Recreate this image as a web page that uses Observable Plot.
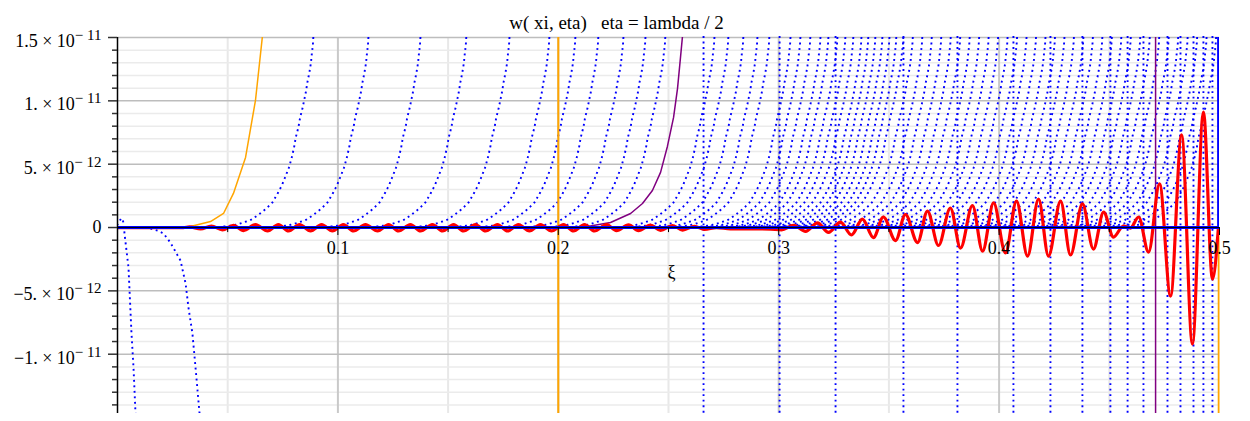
<!DOCTYPE html>
<html><head><meta charset="utf-8">
<script src="https://cdn.jsdelivr.net/npm/d3@7"></script>
<script src="https://cdn.jsdelivr.net/npm/@observablehq/plot@0.6"></script>
<style>body{margin:0;background:#fff} svg{display:block}</style>
</head><body><div id="chart"></div>
<script>
// ---------- text ----------
const titleText = "w( xi, eta)   eta = lambda / 2";
const xLabel = "ξ";
const xMajor = [0.1, 0.2, 0.3, 0.4, 0.5];
const xMajorText = ["0.1", "0.2", "0.3", "0.4", "0.5"];
const xMinor = [0.05, 0.15, 0.25, 0.35, 0.45];
const yMajor = [-1e-11, -5e-12, 0, 5e-12, 1e-11, 1.5e-11];
const yMajorText = ["−1. × 10|− 11", "−5. × 10|− 12", "0", "5. × 10|− 12", "1. × 10|− 11", "1.5 × 10|− 11"];
const yMinorUnits = [-14,-13,-12,-11,-9,-8,-7,-6,-4,-3,-2,-1,1,2,3,4,6,7,8,9,11,12,13,14]; // ×1e-12

// ---------- red curve (extrema), w in 1e-12 ----------
const redXi = [0,0.02,0.0299,0.0327,0.0377,0.0426,0.0476,0.0526,0.0572,0.0626,0.0681,0.0730,0.0776,0.0826,0.0876,0.0926,0.0975,0.1025,0.1071,0.1125,0.1180,0.1230,0.1275,0.1329,0.1375,0.1429,0.1475,0.1525,0.1570,0.1624,0.1670,0.1724,0.1770,0.1819,0.1869,0.1919,0.1969,0.2024,0.2069,0.2119,0.2164,0.2219,0.2264,0.2319,0.2364,0.2418,0.2464,0.2518,0.2564,0.2618,0.2663,0.2718,0.2781,0.2849,0.2917,0.2963,0.3013,0.3067,0.3122,0.3176,0.3226,0.3280,0.3330,0.3380,0.3430,0.3475,0.3530,0.3575,0.3630,0.3675,0.3725,0.3779,0.3825,0.3879,0.3925,0.3975,0.4029,0.4079,0.4129,0.4179,0.4224,0.4279,0.4324,0.4378,0.4428,0.4474,0.4519,0.4564,0.4596,0.4633,0.4678,0.4728,0.4778,0.4828,0.4877,0.4927,0.4968,0.4995];
const redW  = [0,0,0,0.05,-0.10,0.12,-0.18,0.18,-0.24,0.23,-0.27,0.23,-0.27,0.23,-0.27,0.23,-0.27,0.23,-0.27,0.23,-0.27,0.23,-0.27,0.23,-0.27,0.23,-0.27,0.23,-0.27,0.23,-0.27,0.23,-0.27,0.23,-0.27,0.23,-0.27,0.23,-0.27,0.23,-0.27,0.23,-0.25,0.21,-0.24,0.19,-0.22,0.16,-0.20,0.10,-0.15,0.0,-0.10,-0.10,-0.10,-0.12,-0.18,0.18,-0.30,0.36,-0.38,0.43,-0.59,0.67,-0.79,0.83,-1.03,1.03,-1.19,1.30,-1.42,1.54,-1.62,1.74,-1.86,1.94,-2.01,2.09,-2.25,2.25,-2.25,2.09,-2.17,1.86,-1.70,1.22,-0.75,0.12,-0.04,0.83,-1.94,3.44,-5.41,7.31,-9.20,9.12,-4.07,0];

// ---------- solid blue (≈ 0, then vertical at the end) ----------
const blueXi = [0, 0.4996, 0.4996];
const blueW  = [0, 0, 16];

// ---------- orange ----------
const orangeXi = [0,0.0286,0.0331,0.0422,0.0481,0.0526,0.0581,0.0626,0.0658,0.0662];
const orangeW  = [0,0,0.08,0.47,1.11,2.69,5.53,10.03,15.17,16];
const orangeRuleFull = [0.2];
const orangeRuleLow = [0.4996];

// ---------- purple ----------
const purpleXi = [0.1738,0.2010,0.2132,0.2237,0.2328,0.2382,0.2427,0.2464,0.2495,0.2523,0.2541,0.2554,0.2563,0.2568];
const purpleW  = [0,0,0.08,0.40,1.11,1.90,2.92,4.35,6.40,8.69,10.98,13.35,15.01,15.6];
const purpleRule = [0.471];

// ---------- dotted blue family ----------
const dotExits = [0.0889,0.1139,0.1375,0.1583,0.1779,0.1960,0.2078,0.2182,0.2296,0.2396,0.2486,0.2709,0.2772,0.2840,0.2904,0.2958,0.3054,0.3099,0.3144,0.3190,0.3226,0.3267,0.3303,0.3339,0.3376,0.3407,0.3439,0.3471,0.3503,0.3534,0.3566,0.3609,0.3652,0.3695,0.3738,0.3781,0.3824,0.3867,0.3910,0.3953,0.3996,0.4039,0.4082,0.4125,0.4168,0.4211,0.4254,0.4297,0.4340,0.4383,0.4426,0.4469,0.4512,0.4555,0.4598,0.4641,0.4684,0.4727,0.4770,0.4813,0.4856,0.4899,0.4942,0.4985];
// shape (offset from exit, value ×1e-12)
const tplDx = [-0.04537,-0.03675,-0.03371,-0.02840,-0.02541,-0.02160,-0.01860,-0.01633,-0.01434,-0.01252,-0.01103,-0.00980,-0.00876,-0.00799,-0.00681,-0.00603,-0.00499,-0.00422,-0.00345,-0.00272,-0.00195,-0.00118,-0.00073,-0.00027,0,0.0002];
const tplW  = [0,0.16,0.29,0.60,0.95,1.46,1.98,2.66,3.32,4.11,4.77,5.56,6.35,7.13,7.92,8.69,9.40,10.03,10.69,11.48,12.14,12.93,13.72,14.38,15.17,16];
// downward dotted curves at the left
const downAXi = [0,0.00136,0.00227,0.00272,0.00318,0.00408,0.00499,0.00567,0.00635,0.00726,0.00817,0.0086];
const downAW  = [0.24,0.63,0.71,0.32,-0.47,-1.82,-3.16,-5.77,-8.37,-11.06,-14.69,-16];
const downBXi = [0.0104,0.0150,0.0181,0.0209,0.0240,0.0286,0.0309,0.0322,0.0340,0.0354,0.0372,0.0377];
const downBW  = [0,-0.08,-0.24,-0.47,-1.19,-2.61,-4.42,-6.32,-8.37,-11.06,-14.62,-16];
// near-vertical dotted lines (poles)
const poles = [0.2659,0.3004,0.3258,0.3566,0.3811,0.4065,0.4233,0.4378,0.4505,0.4583,0.4655,0.4764,0.4823,0.4882,0.4927,0.4968];

// ---------- build tables ----------
const S = 1e-12;
const pts = (xs, ws) => xs.map((x, i) => ({x, y: ws[i] * S}));
const red = pts(redXi, redW);
const blueSolid = pts(blueXi, blueW);
const orange = pts(orangeXi, orangeW);
const purple = pts(purpleXi, purpleW);
const dotted = [];
dotExits.forEach((e, c) => tplDx.forEach((dx, j) => dotted.push({c, x: e + dx, y: tplW[j] * S})));
pts(downAXi, downAW).forEach(p => dotted.push({c: "A", ...p}));
pts(downBXi, downBW).forEach(p => dotted.push({c: "B", ...p}));
const yMinor = yMinorUnits.map(u => u * S);
const yMin = -1.468e-11, yMax = 1.5e-11;

const font = "Liberation Serif, DejaVu Serif, serif";
const BLUE = "#0000ff";
const DOTS = "0.01 5.5";
const dotStyle = {stroke: BLUE, strokeWidth: 1.9, strokeDasharray: DOTS, strokeLinecap: "square"};

const chart = Plot.plot({
  width: 1250, height: 421,
  marginLeft: 117, marginRight: 31, marginTop: 37, marginBottom: 8,
  x: {domain: [0, 0.5], axis: null, label: null},
  y: {domain: [yMin, yMax], label: null},
  style: {fontFamily: font, background: "white", color: "black"},
  marks: [
    Plot.ruleX(xMinor, {stroke: "#e8e8e8", strokeWidth: 2}),
    Plot.ruleY(yMinor, {stroke: "#ebebeb", strokeWidth: 1.5}),
    Plot.ruleX(xMajor.slice(0, 4), {stroke: "#c9c9c9", strokeWidth: 2}),
    Plot.ruleY(yMajor.filter(d => d !== 0), {stroke: "#bdbdbd", strokeWidth: 1.5}),
    Plot.line(dotted, {x: "x", y: "y", z: "c", ...dotStyle, clip: true}),
    Plot.ruleX(poles, dotStyle),
    Plot.line(orange, {x: "x", y: "y", stroke: "orange", strokeWidth: 1.5, clip: true}),
    Plot.ruleX(orangeRuleFull, {stroke: "orange", strokeWidth: 2}),
    Plot.ruleX(orangeRuleLow, {y1: 0, y2: yMin, stroke: "orange", strokeWidth: 1.8}),
    Plot.line(purple, {x: "x", y: "y", stroke: "purple", strokeWidth: 1.5, clip: true}),
    Plot.ruleX(purpleRule, {stroke: "purple", strokeWidth: 1.5}),
    Plot.line(red, {x: "x", y: "y", stroke: "red", strokeWidth: 3.2, curve: "monotone-x", clip: true}),
    Plot.line(blueSolid, {x: "x", y: "y", stroke: BLUE, strokeWidth: 3, clip: true}),
    Plot.ruleY([0], {stroke: "black", strokeWidth: 1}),
    Plot.ruleX([0], {stroke: "black", strokeWidth: 1.5}),
    Plot.axisY(yMinor, {tickSize: 5, tickFormat: () => "", strokeWidth: 1.5, stroke: "#333"}),
    Plot.axisY(yMajor, {tickSize: 9, tickPadding: 7, fontSize: 18, strokeWidth: 1.5, stroke: "#333",
      tickFormat: d => yMajorText[yMajor.indexOf(d)]}),
    Plot.ruleX(xMinor, {y1: 0, y2: -0.4e-12, stroke: "black"}),
    Plot.ruleX(xMajor, {y1: 0, y2: -0.63e-12, stroke: "black"}),
    Plot.text(xMajor, {x: d => d, y: 0, dy: 21, text: (d, i) => xMajorText[i], fontSize: 18}),
    Plot.text([xLabel], {x: 0.25, y: 0, dy: 45, dx: 3, fontSize: 18}),
    Plot.text([titleText], {frameAnchor: "top", dx: -52, dy: -22, fontSize: 19, ariaLabel: "chart-title"})
  ]
});

// superscripts for y tick labels
const NS = "http://www.w3.org/2000/svg";
chart.querySelectorAll('g[aria-label="y-axis tick label"] text').forEach(t => {
  const parts = t.textContent.split("|");
  if (parts.length === 2) {
    t.textContent = parts[0];
    t.setAttribute("y", "0.52em");
    const ts = document.createElementNS(NS, "tspan");
    ts.setAttribute("dy", "-7");
    ts.setAttribute("font-size", "15");
    ts.textContent = parts[1];
    t.appendChild(ts);
  }
});
// italic w in title, keep spaces
const tt = chart.querySelector('g[aria-label="chart-title"] text');
if (tt) {
  const s = tt.textContent;
  tt.textContent = "";
  tt.style.whiteSpace = "pre";
  const a = document.createElementNS(NS, "tspan");
  a.style.fontStyle = "italic";
  a.textContent = s[0];
  const b = document.createElementNS(NS, "tspan");
  b.textContent = s.slice(1);
  tt.appendChild(a); tt.appendChild(b);
}
document.getElementById("chart").appendChild(chart);
</script>
</body></html>
